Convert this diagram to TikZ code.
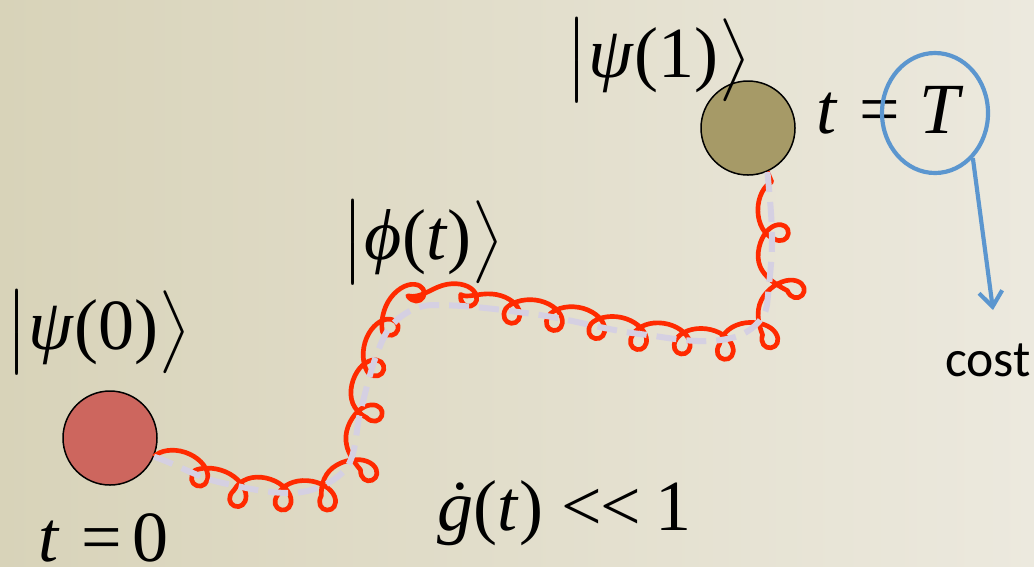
\documentclass[tikz,border=0pt]{standalone}
\usepackage{amsmath}
\usepackage{fontspec}
\setmainfont{Liberation Serif}
\newfontfamily\costfont{Carlito}
\usetikzlibrary{shapes.geometric,decorations.pathmorphing,arrows.meta}
\definecolor{bgl}{HTML}{D8D3B9}
\definecolor{bgr}{HTML}{ECE9DE}
\definecolor{startred}{HTML}{CD665E}
\definecolor{olive}{HTML}{A69A67}
\definecolor{wig}{HTML}{FF2A00}
\definecolor{dashc}{HTML}{D5D0E2}
\definecolor{blueline}{HTML}{5B96CF}
\newcommand{\myket}[1]{$\bigl|$#1$\bigr\rangle$}
\begin{document}
\begin{tikzpicture}[x=0.3pt,y=-0.3pt,
  bigtext/.style={font=\fontsize{21.6}{26}\selectfont, inner sep=0pt},
  state/.style={circle, draw=black, line width=0.45pt, minimum size=28.2pt, inner sep=0pt},
  guide/.style={draw=dashc, line width=1.8pt, dash pattern=on 6pt off 3pt},
  wiggle/.style={draw=wig, line width=1.4pt, line join=round,
    decorate, decoration={coil, amplitude=4.2pt, segment length=13pt, aspect=1.25}},
  costline/.style={draw=blueline, line width=1.25pt}
]
\shade[left color=bgl, right color=bgr] (0,0) rectangle (1034,566);
\useasboundingbox (0,0) rectangle (1034,566);

% states
\node[state, fill=startred] (s0) at (110,438) {};
\node[state, fill=olive] (s1) at (748,128) {};

% path coordinates
\coordinate (p1) at (223,483);
\coordinate (p2) at (290,493);
\coordinate (p3) at (343,472);
\coordinate (p4) at (360,413);
\coordinate (p5) at (385,335);
\coordinate (p6) at (433,305);
\coordinate (p7) at (540,315);
\coordinate (p8) at (640,334);
\coordinate (p9) at (735,337);
\coordinate (p10) at (767,305);
\coordinate (p11) at (772,240);

\def\route{(s0.-23) .. controls +(24,8) and +(-25,-5) .. (p1)
  .. controls +(23,5) and +(-23,0) .. (p2)
  .. controls +(19,0) and +(-13,13) .. (p3)
  .. controls +(14,-14) and +(-5,20) .. (p4)
  .. controls +(7,-27) and +(-12,24) .. (p5)
  .. controls +(9,-17) and +(-19,0) .. (p6)
  .. controls +(36,0) and +(-36,-5) .. (p7)
  .. controls +(34,5) and +(-34,-4) .. (p8)
  .. controls +(32,4) and +(-31,9) .. (p9)
  .. controls +(14,-4) and +(-2,15) .. (p10)
  .. controls +(2,-22) and +(0,22) .. (p11)
  .. controls +(0,-23) and +(2,23) .. (s1.-66)}

\draw[wiggle] \route;
\draw[guide] \route;

% labels
\node[bigtext] (k0) at (98,332) {\myket{\textit{ψ}(0)}};
\node[bigtext] (k1) at (658,60) {\myket{\textit{ψ}(1)}};
\node[bigtext] (kt) at (423,242) {\myket{\textit{ϕ}(\textit{t})}};
\node[bigtext, anchor=base west] (t0) at (38,561) {\textit{t}\hspace{0.3em}=\hspace{0.14em}0};
\node[bigtext, anchor=base west] (tT) at (816,133) {\textit{t}\hspace{0.3em}=\hspace{0.26em}\textit{T}};
\node[bigtext, anchor=base west] (gd) at (437,530) {\textit{ġ}(\textit{t})\hspace{0.25em}<\kern-0.02em\relax<\hspace{0.2em}1};

% cost
\node[costline, ellipse, minimum width=31.8pt, minimum height=36pt, inner sep=0pt] (ell) at (935,113) {};
\node[font=\costfont\fontsize{15.5}{18}\selectfont, inner sep=0pt, anchor=base] (cost) at (988,376) {cost};
\coordinate (tip) at (993,310);
\draw[costline, -{Straight Barb[length=4.5pt, width=7pt, line width=1.25pt]}] (ell.-50) -- (tip);
\end{tikzpicture}
\end{document}
